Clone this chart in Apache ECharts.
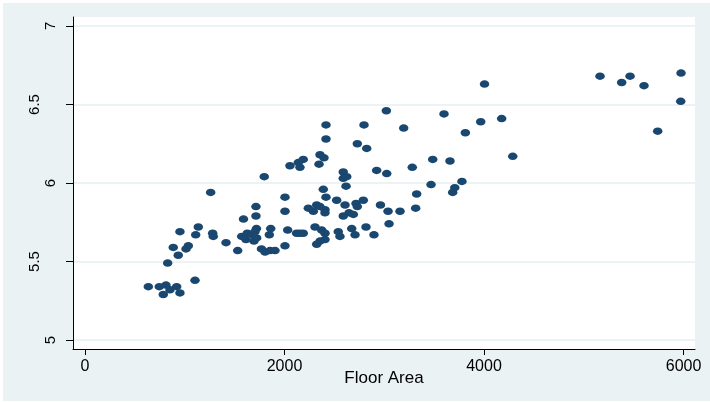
<!DOCTYPE html>
<html>
<head>
<meta charset="utf-8">
<script src="https://cdn.jsdelivr.net/npm/echarts@6/dist/echarts.min.js"></script>
<style>
  html, body { margin: 0; padding: 0; background: #ffffff; }
  #chart { position: absolute; left: 3px; top: 3px; width: 707px; height: 398px; }
</style>
</head>
<body>
<div id="chart"></div>
<script>
// Floor area of each property and its (log) value
const floorArea = [
  635, 745, 812, 785, 852, 919, 952, 1103, 829, 885,
  935, 1013, 1036, 952, 1110, 1136, 1280, 1286, 1260, 1414,
  1531, 1589, 1714, 1714, 1571, 1627, 1614, 1694, 1719, 1704,
  1681, 1721, 1769, 1805, 1855, 1905, 1797, 1862, 1848, 2005,
  2005, 2005, 2032, 2055, 2138, 2155, 2188, 2122, 2155, 2188,
  2239, 2323, 2356, 2289, 2406, 2406, 2306, 2373, 2406, 2406,
  2356, 2323, 2356, 2396, 2346, 2389, 2416, 2416, 2416, 2523,
  2539, 2556, 2589, 2589, 2617, 2624, 2607, 2589, 2647, 2690,
  2674, 2707, 2717, 2730, 2790, 2730, 2824, 2797, 2817, 2897,
  2924, 2962, 3021, 3025, 3038, 3048, 3158, 3195, 3281, 3315,
  3325, 3469, 3486, 3599, 3659, 3686, 3707, 3779, 3813, 3967,
  4005, 4177, 4288, 5163, 5380, 5464, 5604, 5741, 5975, 5972
];
const logValue = [
  5.34, 5.34, 5.35, 5.29, 5.32, 5.34, 5.30, 5.38, 5.49, 5.59,
  5.54, 5.58, 5.60, 5.69, 5.67, 5.72, 5.68, 5.66, 5.94, 5.62,
  5.57, 5.77, 5.85, 5.79, 5.66, 5.68, 5.64, 5.63, 5.71, 5.69,
  5.67, 5.65, 5.58, 5.56, 5.57, 5.57, 6.04, 5.71, 5.67, 5.91,
  5.82, 5.60, 5.70, 6.11, 6.13, 6.10, 6.15, 5.68, 5.68, 5.68,
  5.84, 5.86, 5.85, 5.82, 5.83, 5.81, 5.72, 5.70, 5.68, 5.64,
  5.63, 5.61, 6.18, 6.16, 6.12, 5.96, 5.91, 6.37, 6.28, 5.89,
  5.69, 5.66, 6.07, 6.03, 5.98, 6.04, 5.86, 5.79, 5.81, 5.80,
  5.71, 5.67, 5.87, 5.85, 5.89, 6.25, 6.22, 6.37, 5.72, 5.67,
  6.08, 5.86, 6.46, 6.06, 5.82, 5.74, 5.82, 6.35, 6.10, 5.84,
  5.93, 5.99, 6.15, 6.44, 6.14, 5.94, 5.97, 6.01, 6.32, 6.39,
  6.63, 6.41, 6.17, 6.68, 6.64, 6.68, 6.62, 6.33, 6.70, 6.52
];
// Axis tick labels
const xTicks = [0, 2000, 4000, 6000];
const yTicks = [5, 5.5, 6, 6.5, 7];
const xTitle = 'Floor Area';

const points = floorArea.map((x, i) => [x, logValue[i]]);

const chart = echarts.init(document.getElementById('chart'));
const font = '"Liberation Sans", Arial, Helvetica, sans-serif';

chart.setOption({
  animation: false,
  backgroundColor: '#eaf2f3',
  grid: {
    left: 70, top: 14, width: 622, height: 332,
    show: true, backgroundColor: '#ffffff', borderWidth: 0
  },
  xAxis: {
    type: 'value',
    min: -120, max: 6115,
    name: xTitle,
    nameLocation: 'middle',
    nameGap: 21,
    nameMoveOverlap: false,
    nameTextStyle: { fontFamily: font, fontSize: 17, color: '#000000' },
    axisLine: { show: true, onZero: false, lineStyle: { color: '#000000', width: 1 } },
    axisTick: { show: true, length: 6, customValues: xTicks, lineStyle: { color: '#000000', width: 1 } },
    axisLabel: {
      customValues: xTicks, fontFamily: font, fontSize: 16, color: '#000000', margin: 10,
      formatter: v => String(v)
    },
    splitLine: { show: false }
  },
  yAxis: {
    type: 'value',
    min: 4.943, max: 7.057,
    axisLine: { show: true, onZero: false, lineStyle: { color: '#000000', width: 1 } },
    axisTick: { show: true, length: 7, customValues: yTicks, lineStyle: { color: '#000000', width: 1 } },
    axisLabel: {
      customValues: yTicks,
      rotate: 90,
      margin: 15,
      fontFamily: font, fontSize: 15, color: '#000000',
      formatter: v => {
        const s = String(v);
        return s.length > 1 ? '{w|' + s + '}' : '{n|' + s + '}';
      },
      rich: {
        n: { fontFamily: font, fontSize: 15, color: '#000000' },
        w: { fontFamily: font, fontSize: 15, color: '#000000', padding: [0, 0, 16, 0] }
      }
    },
    splitLine: { show: true, lineStyle: { color: '#e6eff1', width: 1.5 } }
  },
  series: [{
    type: 'scatter',
    data: points,
    symbol: 'circle',
    symbolSize: [9.5, 7.5],
    itemStyle: { color: '#1a476f', opacity: 1 }
  }]
});
</script>
</body>
</html>
